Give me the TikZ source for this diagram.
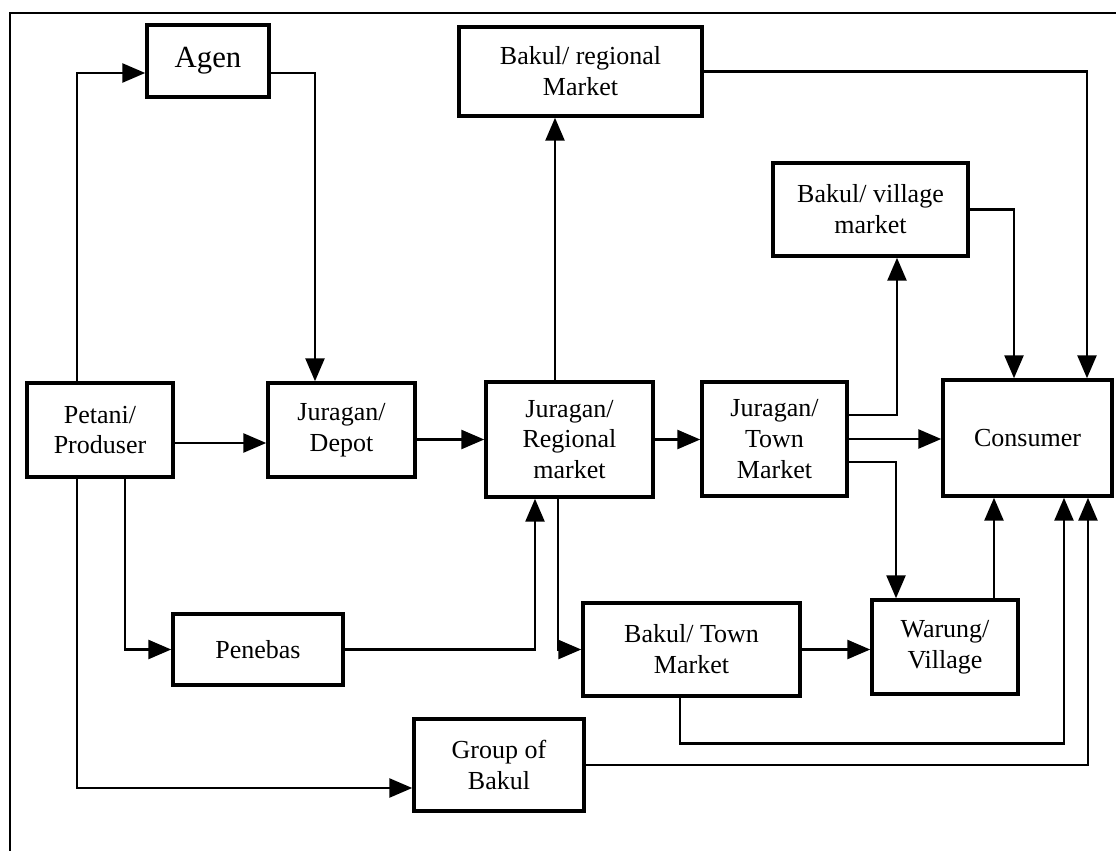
\documentclass[tikz,border=0pt]{standalone}
\usepackage{fontspec}
\setmainfont{Liberation Serif}
\usetikzlibrary{calc}
\usetikzlibrary{arrows.meta}
\usetikzlibrary{positioning}

\tikzset{
  box/.style={draw, line width=2pt, align=center, inner sep=2pt,
    font=\fontsize{14.8pt}{17.6pt}\selectfont},
  flow/.style={line width=1.5pt, -{Triangle[length=0.46cm, width=0.38cm]}},
}

\begin{document}
\begin{tikzpicture}[x=0.02cm, y=-0.02cm]
\useasboundingbox (0, 0) rectangle (1116, 851);

% Frame (left + top)
\coordinate[] (f1) at (10, 851);
\coordinate[] (f2) at (10, 13);
\coordinate[] (f3) at (1116, 13);
\draw[line width=1.4pt] (f1) -- (f2) -- (f3);

% ---------------------------------------------------
% Top row
\node[box, minimum width=2.44cm, minimum height=1.44cm,
      font=\fontsize{17.5pt}{21pt}\selectfont] (agen) at (208, 61) {Agen};
\node[box, minimum width=4.86cm, minimum height=1.78cm] (bakulreg) at (580.5, 71.5) {Bakul/ regional\\Market};
\node[box, minimum width=3.9cm, minimum height=1.86cm] (bakulvil) at (870.5, 209.5) {Bakul/ village\\market};

% Middle row
\node[box, minimum width=2.92cm, minimum height=1.88cm] (petani) at (100, 430) {Petani/\\Produser};
\node[box, minimum width=2.94cm, minimum height=1.88cm] (depot) at (341.5, 430) {Juragan/\\Depot};
\node[box, minimum width=3.34cm, minimum height=2.3cm] (jreg) at (569.5, 439.5) {Juragan/\\Regional\\market};
\node[box, minimum width=2.9cm, minimum height=2.28cm] (jtown) at (774.5, 439) {Juragan/\\Town\\Market};
\node[box, minimum width=3.38cm, minimum height=2.32cm] (consumer) at (1027.5, 438) {Consumer};

% Bottom rows
\node[box, minimum width=3.4cm, minimum height=1.42cm] (penebas) at (258, 649.5) {Penebas};
\node[box, minimum width=4.34cm, minimum height=1.86cm] (bakultown) at (691.5, 649.5) {Bakul/ Town\\Market};
\node[box, minimum width=2.92cm, minimum height=1.88cm] (warung) at (945, 647) {Warung/\\Village};
\node[box, minimum width=3.4cm, minimum height=1.84cm] (group) at (499, 765) {Group of\\Bakul};

% ---------------------------------------------------
% Petani branches
\draw[flow] ([xshift=-0.46cm]petani.north) |- ([yshift=-0.24cm]agen.west);
\draw[flow] ([yshift=-0.24cm]agen.east) -| ([xshift=-0.53cm]depot.north);
\draw[flow] ([yshift=-0.26cm]petani.east) -- ([yshift=-0.26cm]depot.west);
\draw[flow] ([xshift=0.5cm]petani.south) |- (penebas.west);
\draw[flow] ([xshift=-0.46cm]petani.south) |- ([yshift=-0.46cm]group.west);

% Juragan chain
\draw[flow] ([yshift=-0.19cm]depot.east) -- (jreg.west);
\draw[flow] (penebas.east) -| ([xshift=-0.69cm]jreg.south);
\draw[flow] ([xshift=-0.29cm]jreg.north) coordinate (u) -- (u |- bakulreg.south);
\draw[flow] ([xshift=-0.23cm]jreg.south) |- (bakultown.west);
\draw[flow] (jreg.east) -- (jreg.east -| jtown.west);

% Town market outputs
\draw[flow] ([yshift=0.48cm]jtown.east) -| ([xshift=0.53cm]bakulvil.south);
\draw[flow] (jtown.east) -- (jtown.east -| consumer.west);
\draw[flow] ([yshift=-0.46cm]jtown.east) -| ([xshift=-0.98cm]warung.north);
\draw[flow] (bakultown.east) -- (bakultown.east -| warung.west);

% Into consumer
\draw[flow] (bakulreg.east) -| ([xshift=1.19cm]consumer.north);
\draw[flow] (bakulvil.east) -| ([xshift=-0.27cm]consumer.north);
\draw[flow] ([xshift=0.98cm]warung.north) coordinate (w) -- (w |- consumer.south);
\draw[flow] ([xshift=-0.23cm]bakultown.south) -- ++(0, 46) -| ([xshift=0.73cm]consumer.south);
\draw[flow] (group.east) -| ([xshift=1.21cm]consumer.south);
% ---------------------------------------------------
\end{tikzpicture}
\end{document}
